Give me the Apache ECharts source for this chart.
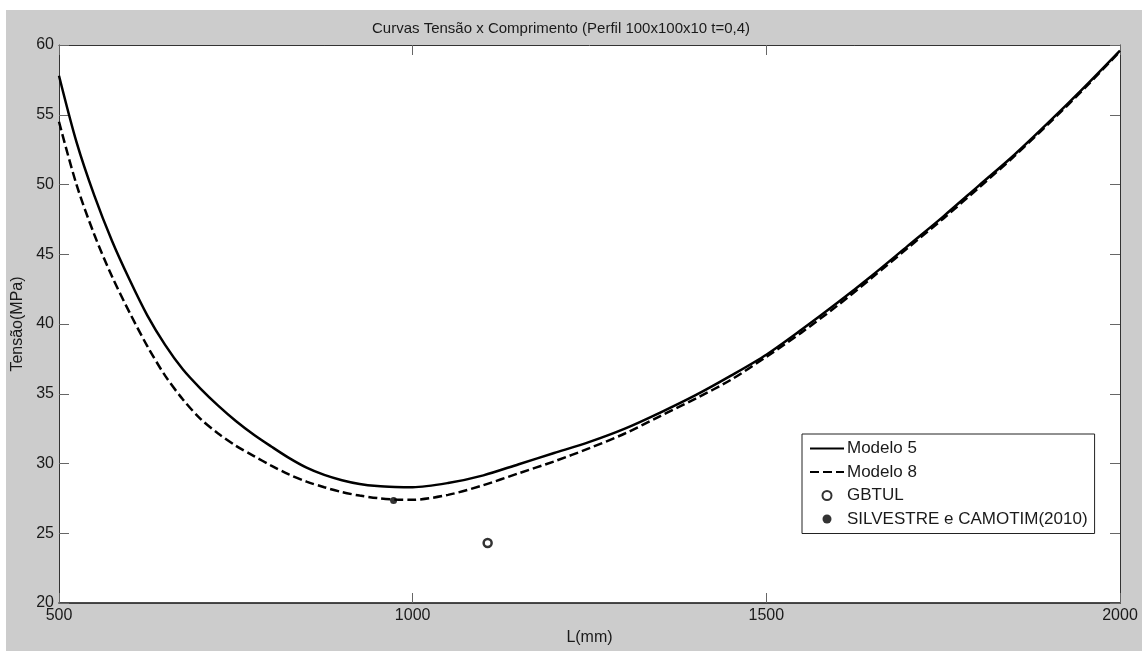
<!DOCTYPE html>
<html>
<head>
<meta charset="utf-8">
<script src="https://cdn.jsdelivr.net/npm/echarts@6/dist/echarts.min.js"></script>
<style>html,body{margin:0;padding:0;background:#fff}#c{width:1142px;height:651px}</style>
</head>
<body>
<div id="c"></div>
<script>
const lengths = [500,525,550,575,600,625,650,675,700,725,750,775,800,825,850,875,900,925,950,975,1000,1050,1100,1150,1200,1250,1300,1350,1400,1450,1500,1550,1600,1650,1700,1750,1800,1850,1900,1950,2000];
const modelo5 = [57.8,53.0,49.2,45.95,43.15,40.6,38.5,36.75,35.37,34.15,33.05,32.08,31.22,30.4,29.7,29.18,28.8,28.53,28.38,28.32,28.3,28.6,29.15,29.95,30.75,31.55,32.5,33.65,34.9,36.3,37.8,39.6,41.5,43.5,45.6,47.7,49.9,52.1,54.5,57.0,59.6];
const modelo8 = [54.5,49.95,46.4,43.4,40.8,38.4,36.3,34.6,33.2,32.15,31.27,30.55,29.85,29.22,28.7,28.3,27.95,27.7,27.52,27.42,27.4,27.75,28.45,29.3,30.15,31.1,32.15,33.4,34.65,36.0,37.65,39.4,41.3,43.35,45.45,47.55,49.75,52.0,54.4,56.9,59.55];
const gbtul = [[1106, 24.3]];
const silvestre = [[973, 27.35]];
const xTicks = [500, 1000, 1500, 2000];
const yTicks = [20, 25, 30, 35, 40, 45, 50, 55, 60];

const FONT = 'Liberation Sans, Arial, sans-serif';
const chart = echarts.init(document.getElementById('c'), null, {renderer: 'canvas'});
const pair = (xs, ys) => xs.map((x, i) => [x, ys[i]]);
const axisCommon = {
  splitLine: {show: false},
  axisLine: {show: true, lineStyle: {color: '#333', width: 1}},
  axisTick: {show: true, inside: true, length: 10, lineStyle: {color: '#666', width: 1}}
};
const noSym = {color: 'rgba(0,0,0,0)', borderWidth: 0};
chart.setOption({
  animation: false,
  backgroundColor: '#fff',
  graphic: [{type: 'rect', z: -10, shape: {x: 6, y: 10, width: 1136, height: 641}, style: {fill: '#cccccc'}}],
  title: {
    text: 'Curvas Tensão x Comprimento (Perfil 100x100x10 t=0,4)',
    left: 367, top: 16,
    textStyle: {fontFamily: FONT, fontSize: 15, fontWeight: 'normal', color: '#1a1a1a'}
  },
  grid: {left: 59, top: 45, right: 22, bottom: 46, show: true, backgroundColor: '#fff', borderWidth: 0},
  legend: {
    orient: 'vertical', left: 802, top: 434,
    backgroundColor: '#fff', borderColor: '#222', borderWidth: 1,
    padding: [6, 7, 6, 7],
    itemWidth: 34, itemHeight: 9, itemGap: 6.5,
    textStyle: {fontFamily: FONT, fontSize: 17, color: '#1a1a1a', padding: [0, 0, 0, -2]},
    data: [
      {name: 'Modelo 5', itemStyle: noSym},
      {name: 'Modelo 8', itemStyle: noSym},
      {name: 'GBTUL'},
      {name: 'SILVESTRE e CAMOTIM(2010)'}
    ]
  },
  xAxis: [
    Object.assign({}, axisCommon, {
      type: 'value', min: 500, max: 2000, interval: 500, position: 'bottom',
      name: 'L(mm)', nameLocation: 'middle', nameGap: 27,
      nameTextStyle: {fontFamily: FONT, fontSize: 16, color: '#1a1a1a'},
      axisLine: {show: true, lineStyle: {color: '#111', width: 1.5}},
      axisLabel: {fontFamily: FONT, fontSize: 16, color: '#1a1a1a', margin: 5,
        formatter: v => xTicks.includes(v) ? String(v) : ''}
    }),
    Object.assign({}, axisCommon, {
      type: 'value', min: 500, max: 2000, interval: 500, position: 'top',
      axisLabel: {show: false}
    })
  ],
  yAxis: [
    Object.assign({}, axisCommon, {
      type: 'value', min: 20, max: 60, interval: 5, position: 'left',
      name: 'Tensão(MPa)', nameLocation: 'middle', nameGap: 23, nameRotate: 90,
      nameTextStyle: {fontFamily: FONT, fontSize: 16, color: '#1a1a1a'},
      axisLabel: {fontFamily: FONT, fontSize: 16, color: '#1a1a1a', margin: 5,
        formatter: v => yTicks.includes(v) ? String(v) : ''}
    }),
    Object.assign({}, axisCommon, {
      type: 'value', min: 20, max: 60, interval: 5, position: 'right',
      axisLabel: {show: false}
    })
  ],
  series: [
    {name: 'Modelo 5', type: 'line', xAxisIndex: 0, yAxisIndex: 0, smooth: 0.3, symbol: 'none',
     data: pair(lengths, modelo5), lineStyle: {color: '#000', width: 2.5, type: 'solid'}, itemStyle: {color: '#000'}},
    {name: 'Modelo 8', type: 'line', xAxisIndex: 0, yAxisIndex: 0, smooth: 0.3, symbol: 'none',
     data: pair(lengths, modelo8), lineStyle: {color: '#000', width: 2.5, type: [9, 4]}, itemStyle: {color: '#000'}},
    {name: 'GBTUL', type: 'scatter', xAxisIndex: 0, yAxisIndex: 0, symbol: 'circle', symbolSize: 8,
     data: gbtul, itemStyle: {color: '#fff', borderColor: '#000', borderWidth: 2.5}},
    {name: 'SILVESTRE e CAMOTIM(2010)', type: 'scatter', xAxisIndex: 0, yAxisIndex: 0, symbol: 'circle', symbolSize: 7,
     data: silvestre, itemStyle: {color: '#000'}, z: 10}
  ]
});
</script>
</body>
</html>
